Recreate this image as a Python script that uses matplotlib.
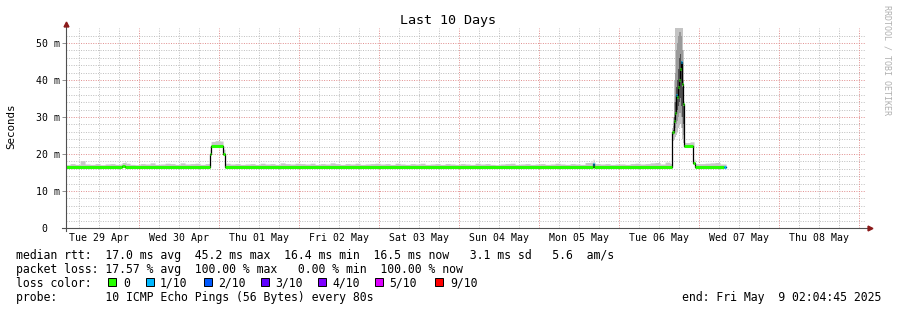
import numpy as np
import matplotlib
matplotlib.use('Agg')
import matplotlib.pyplot as plt
from matplotlib.lines import Line2D
from matplotlib.patches import Rectangle

# time axis: days since Tue 29 Apr 00:00, window = last 10 days up to Fri May 9 02:04:45
t_start = 0.0866
t_end = 10.0866
data_end = 8.3375

# median rtt (ms), step changes
med_t = [0.0866, 0.7875, 0.83, 1.8875, 1.9, 2.05, 2.075, 6.675, 6.6875,
         7.6625, 7.675, 7.6875, 7.7, 7.7125, 7.725, 7.7375, 7.75, 7.7625,
         7.775, 7.7875, 7.8, 7.8125, 7.93, 7.95, 8.3125]
med_ms = [16.4, 16.8, 16.4, 20.0, 22.2, 20.0, 16.4, 17.2, 16.4,
          25.9, 26.0, 29.0, 31.0, 36.0, 35.4, 38.0, 40.0, 43.0,
          44.9, 39.0, 33.4, 22.2, 17.5, 16.4, 16.4]
med_loss = [0, 0, 0, 0, 0, 0, 0, 1, 0,
            0, 0, 0, 0, 1, 0, 0, 0, 0,
            1, 0, 0, 0, 0, 0, 1]

# smoke spread above the median, 1.5 hour blocks
smoke_spread = [
    0.9, 0.7, 1.0, 0.8, 1.8, 0.9, 0.8, 1.0, 0.7, 0.9, 1.0, 0.8, 0.9, 1.1, 0.8, 0.7,
    1.0, 0.9, 1.2, 0.8, 0.9, 1.1, 1.0, 0.8, 1.2, 0.9, 1.0, 1.1, 0.8, 1.0, 1.2, 1.4,
    1.3, 1.1, 0.9, 1.0, 0.8, 0.9, 1.0, 0.8, 1.1, 0.9, 1.0, 0.8, 1.2, 1.0, 0.9, 1.1,
    1.0, 0.9, 1.1, 0.8, 1.0, 0.9, 1.2, 1.0, 0.8, 1.0, 0.9, 1.1, 0.8, 0.9, 1.0, 1.1,
    0.9, 1.0, 0.8, 1.1, 0.9, 0.8, 1.0, 0.9, 1.1, 0.8, 0.9, 1.0, 0.8, 1.0, 0.9, 0.8,
    1.0, 0.9, 0.8, 1.1, 0.9, 1.0, 0.8, 0.7, 0.9, 1.0, 1.1, 0.8, 0.9, 1.0, 0.8, 0.9,
    1.0, 0.8, 0.9, 1.1, 0.9, 0.8, 1.0, 0.9, 0.8, 1.3, 1.4, 1.0, 0.9, 1.0, 0.8, 0.9,
    0.9, 0.8, 1.0, 1.1, 0.9, 1.0, 1.2, 1.3, 0.9, 1.4, 1.0, 1.2, 1.0, 0.9, 1.1, 1.0,
    1.0, 1.1, 1.2, 1.3, 0.9,
]

# spike on Tue 06 May, one value per 18 min step
spike_t0 = 7.6625
outer_lo = [23.5, 23.5, 24.0, 24.5, 25.0, 26.0, 27.0, 28.0, 28.0, 27.0, 24.0, 23.0]
outer_hi = [27.0, 30.0, 40.0, 55.0, 55.0, 55.0, 55.0, 55.0, 55.0, 55.0, 55.0, 48.0]
mid_lo = [24.5, 25.0, 25.5, 27.0, 28.0, 29.0, 30.0, 31.0, 31.0, 30.0, 27.0, 25.0]
mid_hi = [26.0, 27.5, 34.0, 42.0, 48.0, 50.0, 52.0, 53.0, 53.0, 52.0, 48.0, 40.0]
inner_lo = [25.0, 25.5, 26.5, 29.0, 31.0, 32.0, 33.0, 34.0, 35.0, 33.0, 30.0, 28.0]
inner_hi = [25.5, 26.5, 30.0, 34.0, 38.0, 40.0, 43.0, 46.0, 47.0, 45.0, 38.0, 33.0]

loss_labels = ['0', '1/10', '2/10', '3/10', '4/10', '5/10', '9/10']
loss_colors = ['#26ff00', '#00b8ff', '#0059ff', '#5e00ff', '#7e00ff', '#dd00ff', '#ff0000']

day_labels = ['Tue 29 Apr', 'Wed 30 Apr', 'Thu 01 May', 'Fri 02 May', 'Sat 03 May',
              'Sun 04 May', 'Mon 05 May', 'Tue 06 May', 'Wed 07 May', 'Thu 08 May']

mono = 'DejaVu Sans Mono'
W, H = 897, 310

fig = plt.figure(figsize=(W / 100, H / 100), dpi=100)
fig.patch.set_facecolor('white')
ax = fig.add_axes([66 / W, (H - 228) / H, 800 / W, 200 / H])
ax.set_xlim(t_start, t_end)
ax.set_ylim(0, 54.05)
for s in ax.spines.values():
    s.set_visible(False)

# grid
dots = (0, (1, 1.5))
minor_c = '#bdbdbd'
major_c = '#e08c8c'
for y in np.arange(2, 54, 2):
    if y % 10 != 0:
        ax.axhline(y, color=minor_c, lw=0.7, ls=dots, zorder=0)
for y in [10, 20, 30, 40, 50]:
    ax.axhline(y, color=major_c, lw=0.7, ls=dots, zorder=0)
for d in np.arange(0.25, 10.1, 0.25):
    if d < t_start:
        continue
    if abs(d - round(d)) < 1e-6:
        ax.axvline(d, color=major_c, lw=0.7, ls=dots, zorder=0)
    else:
        ax.axvline(d, color=minor_c, lw=0.7, ls=dots, zorder=0)

# smoke on a per-pixel time grid
tg = np.arange(0.0875, data_end, 0.0125)
idx = np.searchsorted(med_t, tg + 1e-9, side='right') - 1
med_g = np.array(med_ms)[idx]
spread_g = np.array(smoke_spread)[np.minimum((tg / 0.0625).astype(int), len(smoke_spread) - 1)]
lo = med_g - 0.2
hi = med_g + spread_g
tt = np.append(tg, data_end)
ax.fill_between(tt, np.append(lo, lo[-1]), np.append(hi, hi[-1]), step='post',
                color='#c8c8c8', lw=0, zorder=1)

ts = spike_t0 + 0.0125 * np.arange(len(outer_lo) + 1)
for lo_s, hi_s, col in [(outer_lo, outer_hi, '#c4c4c4'), (mid_lo, mid_hi, '#9a9a9a'),
                        (inner_lo, inner_hi, '#505050')]:
    ax.fill_between(ts, lo_s + [lo_s[-1]], hi_s + [hi_s[-1]], step='post',
                    color=col, lw=0, zorder=2)

# median line: thin black steps + thick loss-coloured pieces
ax.step(med_t + [data_end], med_ms + [med_ms[-1]], where='post', color='black', lw=0.9, zorder=3)
seg_end = med_t[1:] + [data_end]
for t0, t1, v, l in zip(med_t, seg_end, med_ms, med_loss):
    ax.hlines(v, t0, t1, color=loss_colors[l], lw=2.2, zorder=4, capstyle='butt')

# ticks
ax.set_yticks([0, 10, 20, 30, 40, 50])
ax.set_yticklabels(['0  ', '10 m', '20 m', '30 m', '40 m', '50 m'], family=mono, fontsize=7.1)
ax.tick_params(axis='y', length=3, width=0.7, color='#909090', pad=1.5)
ax.set_xticks(np.arange(10) + 0.5)
ax.set_xticklabels(day_labels, family=mono, fontsize=7.1)
ax.tick_params(axis='x', length=0, pad=3.5)

# axes lines with arrows
def px(x, y):
    return x / W, 1 - y / H

axc = '#505050'
fig.add_artist(Line2D([66 / W, 66 / W], [1 - 231 / H, 1 - 25 / H], color=axc, lw=0.8))
fig.add_artist(Line2D([62 / W, 868 / W], [1 - 228 / H, 1 - 228 / H], color=axc, lw=0.8))
fig.add_artist(Line2D([66 / W], [1 - 23.5 / H], marker='^', ms=3.5, color='#8b1a1a', lw=0))
fig.add_artist(Line2D([869.5 / W], [1 - 228 / H], marker='>', ms=3.5, color='#8b1a1a', lw=0))

# titles
fig.text(*px(448, 24), 'Last 10 Days', family=mono, fontsize=9.6, ha='center', va='baseline')
fig.text(*px(11, 126), 'Seconds', family=mono, fontsize=7.8, rotation=90, ha='center', va='center')
fig.text(*px(887, 60), 'RRDTOOL / TOBI OETIKER', family=mono, fontsize=6, rotation=270,
         ha='center', va='center', color='#b0b0b0')

# legend rows
fs = 8.3
fig.text(*px(16, 259), 'median rtt:  17.0 ms avg  45.2 ms max  16.4 ms min  16.5 ms now   3.1 ms sd   5.6  am/s',
         family=mono, fontsize=fs, va='baseline')
fig.text(*px(16, 273), 'packet loss: 17.57 % avg  100.00 % max   0.00 % min  100.00 % now',
         family=mono, fontsize=fs, va='baseline')
fig.text(*px(16, 287), 'loss color:', family=mono, fontsize=fs, va='baseline')
sw_x = [108, 145.5, 204, 261, 318, 375, 435]
lab_x = [123, 160, 218, 275.5, 332, 389, 450]
for sx, lx, lab, col in zip(sw_x, lab_x, loss_labels, loss_colors):
    x0, y0 = px(sx, 286)
    fig.add_artist(Rectangle((x0, y0), 8 / W, 8 / H, facecolor=col, edgecolor='black', lw=0.7))
    fig.text(*px(lx, 287), lab, family=mono, fontsize=fs, va='baseline')
fig.text(*px(16, 301), 'probe:       10 ICMP Echo Pings (56 Bytes) every 80s',
         family=mono, fontsize=fs, va='baseline')
fig.text(*px(881, 301), 'end: Fri May  9 02:04:45 2025', family=mono, fontsize=fs,
         va='baseline', ha='right')

fig.savefig('out.png', dpi=100)
